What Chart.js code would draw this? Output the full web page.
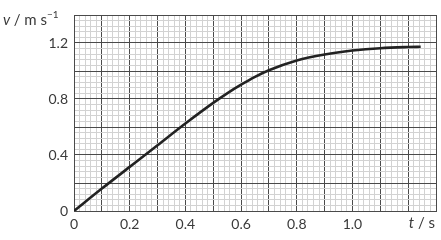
<!DOCTYPE html>
<html lang="en">

<head>
    <meta charset="UTF-8">
    <title>v-t graph</title>
    <script src="https://cdn.jsdelivr.net/npm/chart.js@4.4.0/dist/chart.umd.min.js"></script>
    <style>
        html, body { margin: 0; padding: 0; background: #fff; }
        #wrap { width: 441px; height: 240px; }
    </style>
</head>

<body>
    <div id="wrap">
        <canvas id="vtChart" width="441" height="240"></canvas>
    </div>
</body>

<script>
    // data
    const times = [0, 0.1, 0.2, 0.3, 0.4, 0.5, 0.55, 0.6, 0.65, 0.7, 0.8, 0.9, 1.0, 1.1, 1.2, 1.245];
    const speeds = [0, 0.16, 0.315, 0.47, 0.625, 0.772, 0.84, 0.902, 0.958, 1.005, 1.075, 1.118, 1.146, 1.163, 1.171, 1.173];

    const xLabelValues = [0, 0.2, 0.4, 0.6, 0.8, 1.0];
    const xLabelTexts = ['0', '0.2', '0.4', '0.6', '0.8', '1.0'];
    const yLabelValues = [0, 0.4, 0.8, 1.2];
    const yLabelTexts = ['0', '0.4', '0.8', '1.2'];

    const textColor = '#3a3a3a';
    const majorColor = '#4a4a4a';
    const minorColor = '#d2d2d2';
    const fontFamily = 'Lato, sans-serif';

    function labelFor(value, values, texts) {
        const k = Math.round(value * 100);
        const idx = values.findIndex(v => Math.round(v * 100) === k);
        return idx >= 0 ? texts[idx] : '';
    }

    // axis titles drawn by hand (italic symbols, superscript)
    const axisTitles = {
        id: 'axisTitles',
        afterDraw(chart) {
            const ctx = chart.ctx;
            ctx.save();
            ctx.fillStyle = textColor;
            ctx.textBaseline = 'alphabetic';

            let x = 3;
            const y = 25;
            ctx.font = 'italic 15px ' + fontFamily;
            ctx.fillText('v', x, y);
            x += ctx.measureText('v ').width;
            ctx.font = '15px ' + fontFamily;
            ctx.fillText('/ m s', x, y);
            x += ctx.measureText('/ m s').width;
            ctx.font = '10px ' + fontFamily;
            ctx.fillText('\u22121', x, y - 7);

            ctx.font = '15px ' + fontFamily;
            const rest = ' / s';
            const restW = ctx.measureText(rest).width;
            ctx.font = 'italic 15px ' + fontFamily;
            const tW = ctx.measureText('t').width;
            const right = 435;
            ctx.fillText('t', right - restW - tW, 228);
            ctx.font = '15px ' + fontFamily;
            ctx.fillText(rest, right - restW, 228);
            ctx.restore();
        }
    };

    const ctx = document.getElementById('vtChart').getContext('2d');

    new Chart(ctx, {
        type: 'line',
        data: {
            datasets: [{
                data: times.map((t, i) => ({ x: t, y: speeds[i] })),
                borderColor: '#222',
                borderWidth: 2.6,
                pointRadius: 0,
                cubicInterpolationMode: 'monotone',
                fill: false
            }]
        },
        options: {
            responsive: false,
            animation: false,
            layout: { padding: { top: 15, right: 5, left: 0, bottom: 0 } },
            plugins: {
                legend: { display: false },
                tooltip: { enabled: false }
            },
            scales: {
                x: {
                    type: 'linear',
                    min: 0,
                    max: 1.3,
                    afterFit: scale => { scale.height = 29; },
                    border: { display: true, color: majorColor, width: 1 },
                    grid: {
                        drawTicks: false,
                        color: c => Math.round(c.tick.value * 100) % 10 === 0 ? majorColor : minorColor,
                        lineWidth: 1
                    },
                    ticks: {
                        stepSize: 0.02,
                        autoSkip: false,
                        maxRotation: 0,
                        padding: 5,
                        color: textColor,
                        font: { family: fontFamily, size: 14 },
                        callback: v => labelFor(v, xLabelValues, xLabelTexts)
                    }
                },
                y: {
                    type: 'linear',
                    min: 0,
                    max: 1.4,
                    afterFit: scale => { scale.width = 74; },
                    border: { display: true, color: majorColor, width: 1 },
                    grid: {
                        drawTicks: false,
                        color: c => Math.round(c.tick.value * 100) % 20 === 0 ? majorColor : minorColor,
                        lineWidth: 1
                    },
                    ticks: {
                        stepSize: 0.04,
                        autoSkip: false,
                        padding: 6,
                        color: textColor,
                        font: { family: fontFamily, size: 14 },
                        callback: v => labelFor(v, yLabelValues, yLabelTexts)
                    }
                }
            }
        },
        plugins: [axisTitles]
    });
</script>

</html>
